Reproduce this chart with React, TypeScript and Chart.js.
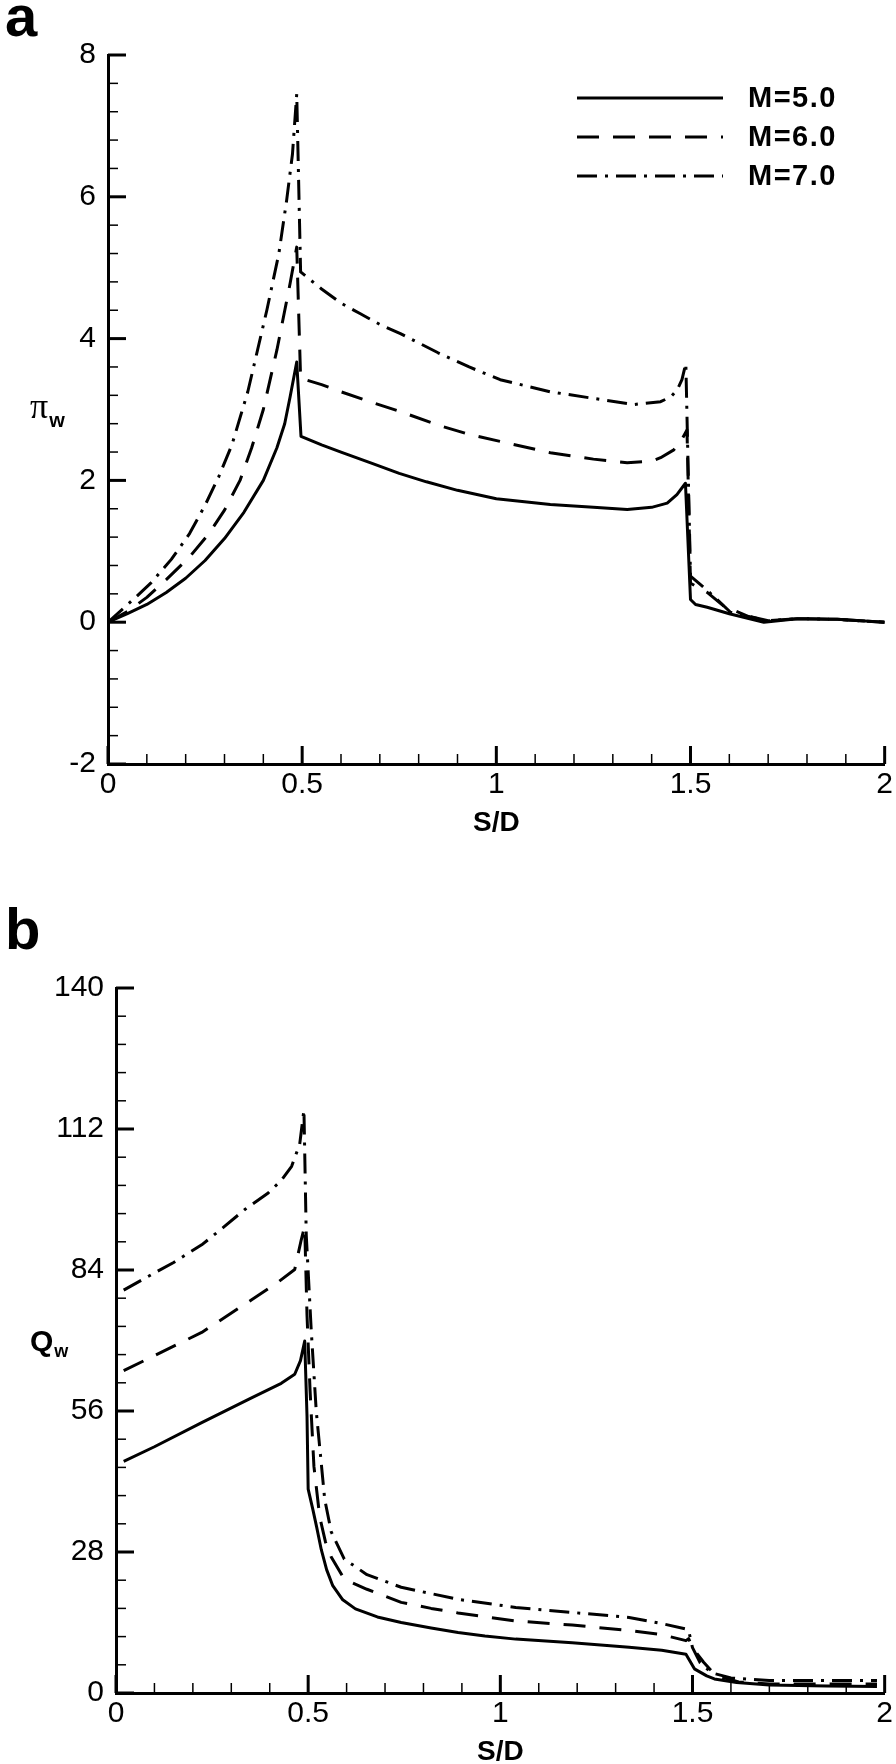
import React, { useEffect, useRef } from 'react';
import { Chart, registerables } from 'chart.js';

Chart.register(...registerables);

const FONT = '"Liberation Sans", Arial, Helvetica, sans-serif';

// ---------- shared ----------
const seriesLabels = ['M=5.0', 'M=6.0', 'M=7.0'];
const xTicks = [0, 0.5, 1, 1.5, 2];
const xTickLabels = ['0', '0.5', '1', '1.5', '2'];

// ---------- panel a : pi_w ----------
const aYTicks = [-2, 0, 2, 4, 6, 8];
const aYTickLabels = ['-2', '0', '2', '4', '6', '8'];

const aM5X = [0, 0.05, 0.1, 0.15, 0.2, 0.25, 0.3, 0.35, 0.4, 0.435, 0.455, 0.469, 0.486, 0.497, 0.55, 0.6, 0.68, 0.75, 0.82, 0.9, 1.0, 1.139, 1.25, 1.337, 1.4, 1.44, 1.465, 1.487, 1.5, 1.513, 1.543, 1.6, 1.689, 1.775, 1.878, 2.0];
const aM5Y = [0, 0.12, 0.25, 0.42, 0.62, 0.87, 1.18, 1.55, 2.0, 2.46, 2.8, 3.18, 3.67, 2.62, 2.5, 2.4, 2.24, 2.1, 1.98, 1.86, 1.74, 1.66, 1.62, 1.59, 1.62, 1.68, 1.8, 1.96, 0.32, 0.25, 0.21, 0.12, 0.0, 0.05, 0.04, 0.0];

const aM6X = [0, 0.05, 0.1, 0.15, 0.21, 0.26, 0.3, 0.34, 0.37, 0.4, 0.435, 0.469, 0.486, 0.496, 0.55, 0.6, 0.68, 0.753, 0.85, 0.93, 1.01, 1.139, 1.25, 1.337, 1.4, 1.423, 1.457, 1.475, 1.491, 1.5, 1.543, 1.585, 1.65, 1.7, 1.775, 1.878, 2.0];
const aM6Y = [0, 0.15, 0.35, 0.6, 0.92, 1.25, 1.58, 2.0, 2.46, 3.0, 3.84, 4.78, 5.29, 3.44, 3.35, 3.25, 3.1, 2.97, 2.78, 2.65, 2.55, 2.39, 2.3, 2.25, 2.27, 2.32, 2.43, 2.55, 2.71, 0.55, 0.42, 0.23, 0.08, 0.02, 0.05, 0.04, 0.0];

const aM7X = [0, 0.065, 0.11, 0.163, 0.21, 0.25, 0.285, 0.319, 0.36, 0.409, 0.44, 0.46, 0.475, 0.486, 0.496, 0.55, 0.6, 0.65, 0.7, 0.753, 0.85, 0.93, 1.01, 1.139, 1.27, 1.354, 1.423, 1.45, 1.466, 1.478, 1.488, 1.5, 1.543, 1.603, 1.7, 1.775, 1.878, 2.0];
const aM7Y = [0, 0.32, 0.55, 0.886, 1.25, 1.65, 2.05, 2.5, 3.25, 4.4, 5.2, 5.95, 6.6, 7.45, 4.94, 4.7, 4.5, 4.35, 4.2, 4.07, 3.8, 3.6, 3.42, 3.25, 3.14, 3.07, 3.11, 3.18, 3.28, 3.42, 3.65, 0.65, 0.45, 0.14, 0.02, 0.05, 0.04, 0.0];

// ---------- panel b : Q_w ----------
const bYTicks = [0, 28, 56, 84, 112, 140];
const bYTickLabels = ['0', '28', '56', '84', '112', '140'];

const bM5X = [0.02, 0.1, 0.223, 0.35, 0.43, 0.465, 0.48, 0.491, 0.497, 0.5, 0.512, 0.522, 0.534, 0.548, 0.564, 0.59, 0.623, 0.68, 0.742, 0.82, 0.89, 0.96, 1.04, 1.187, 1.335, 1.42, 1.483, 1.505, 1.537, 1.557, 1.615, 1.7, 1.85, 1.98];
const bM5Y = [46, 48.9, 53.7, 58.5, 61.5, 63.3, 66, 69.9, 55, 40.5, 36.5, 33, 28.5, 24.5, 21.3, 18.5, 16.7, 15.1, 14.0, 12.9, 12.0, 11.3, 10.7, 10.0, 9.1, 8.5, 7.7, 4.8, 3.4, 2.8, 2.1, 1.6, 1.4, 1.3];

const bM6X = [0.02, 0.1, 0.223, 0.353, 0.42, 0.465, 0.482, 0.491, 0.497, 0.505, 0.515, 0.53, 0.545, 0.56, 0.594, 0.653, 0.742, 0.82, 0.89, 1.04, 1.187, 1.335, 1.42, 1.483, 1.49, 1.5, 1.529, 1.56, 1.62, 1.7, 1.85, 1.98];
const bM6Y = [64, 67, 71.6, 78.1, 81.5, 84.1, 90, 92.7, 75, 60, 45, 35, 30, 27, 22.6, 20.6, 18, 16.8, 15.9, 14.3, 13.5, 12.4, 11.6, 10.4, 10.8, 9, 6.1, 3.5, 2.2, 1.8, 1.8, 1.8];

const bM7X = [0.02, 0.076, 0.15, 0.223, 0.28, 0.335, 0.396, 0.43, 0.457, 0.478, 0.489, 0.495, 0.508, 0.521, 0.543, 0.56, 0.594, 0.653, 0.742, 0.89, 1.04, 1.187, 1.335, 1.425, 1.483, 1.49, 1.5, 1.52, 1.55, 1.6, 1.7, 1.85, 1.98];
const bM7Y = [80, 82.4, 85.5, 89, 92.5, 96, 99.3, 101.8, 104.6, 109, 115.8, 91, 72, 56, 38.5, 32, 26.6, 23.5, 21, 18.6, 17, 16, 15, 13.7, 12.7, 12.4, 9, 6, 4, 3, 2.5, 2.5, 2.5];

const DASHES: number[][] = [[], [22, 14], [20, 8, 3, 8]];

// ---------- decoration plugin (inward ticks, legend, labels) ----------
const decor = {
  id: 'decor',
  afterDraw(chart: any, _args: any, o: any) {
    const ctx: CanvasRenderingContext2D = chart.ctx;
    const xs = chart.scales.x;
    const ys = chart.scales.y;
    const { left, bottom, top } = chart.chartArea;
    ctx.save();
    ctx.strokeStyle = '#000';
    ctx.fillStyle = '#000';
    ctx.lineCap = 'butt';

    // x ticks (pointing into the plot)
    const nx = Math.round((o.xMax - o.xMin) / o.xMinor);
    for (let i = 0; i <= nx; i++) {
      const v = o.xMin + i * o.xMinor;
      const major = i % o.xPer === 0;
      const p = xs.getPixelForValue(v);
      ctx.lineWidth = major ? 3 : 1.5;
      ctx.beginPath();
      ctx.moveTo(p, bottom);
      ctx.lineTo(p, bottom - (major ? 18 : 10));
      ctx.stroke();
    }
    // y ticks
    const ny = Math.round((o.yMax - o.yMin) / o.yMinor);
    for (let i = 0; i <= ny; i++) {
      const v = o.yMin + i * o.yMinor;
      const major = i % o.yPer === 0;
      const p = ys.getPixelForValue(v);
      ctx.lineWidth = major ? 3 : 1.5;
      ctx.beginPath();
      ctx.moveTo(left, p);
      ctx.lineTo(left + (major ? 18 : 10), p);
      ctx.stroke();
    }

    // legend
    if (o.legend) {
      const L = o.legend;
      chart.data.datasets.forEach((ds: any, i: number) => {
        const y = L.y0 + i * L.dy;
        ctx.setLineDash(ds.borderDash || []);
        ctx.lineWidth = 3;
        ctx.beginPath();
        ctx.moveTo(L.x0, y);
        ctx.lineTo(L.x1, y);
        ctx.stroke();
        ctx.setLineDash([]);
        ctx.font = `bold 29px ${FONT}`;
        ctx.textAlign = 'left';
        ctx.textBaseline = 'middle';
        (ctx as any).letterSpacing = '1.5px';
        ctx.fillText(ds.label, L.tx, y + 1);
        (ctx as any).letterSpacing = '0px';
      });
    }

    // panel letter
    ctx.textAlign = 'left';
    ctx.textBaseline = 'alphabetic';
    ctx.font = `bold 58px ${FONT}`;
    ctx.fillText(o.letter, o.letterX, o.letterY);

    // y axis title with subscript, centred on the axis
    const T = o.ytitle;
    const cy = (top + bottom) / 2;
    ctx.font = T.mainFont;
    ctx.fillText(T.main, T.x, cy + T.dy);
    const w = ctx.measureText(T.main).width;
    ctx.font = T.subFont;
    ctx.fillText(T.sub, T.x + w + T.subGap, cy + T.dy + T.subDy);

    ctx.restore();
  },
};

type Series = { x: number[]; y: number[] };

function buildConfig(p: any) {
  const series: Series[] = p.series;
  return {
    type: 'line',
    data: {
      datasets: series.map((s, i) => ({
        label: seriesLabels[i],
        data: s.x.map((x, j) => ({ x, y: s.y[j] })),
        borderColor: '#000',
        backgroundColor: '#000',
        borderWidth: 3,
        borderDash: DASHES[i],
        borderJoinStyle: 'round',
        pointRadius: 0,
        fill: false,
        tension: 0,
      })),
    },
    options: {
      responsive: false,
      animation: false,
      events: [],
      layout: { padding: p.padding },
      plugins: {
        legend: { display: false },
        tooltip: { enabled: false },
        decor: p.decor,
      },
      scales: {
        x: {
          type: 'linear',
          min: 0,
          max: 2,
          afterBuildTicks: (s: any) => {
            s.ticks = xTicks.map((v) => ({ value: v }));
          },
          afterFit: (s: any) => {
            s.height = p.xHeight;
          },
          ticks: {
            autoSkip: false,
            maxRotation: 0,
            color: '#000',
            padding: 3,
            font: { size: 30, family: FONT, lineHeight: 1.2 },
            callback: (_v: any, i: number) => xTickLabels[i],
          },
          grid: { display: false, drawTicks: false },
          border: { display: true, color: '#000', width: 3 },
          title: {
            display: true,
            text: 'S/D',
            color: '#000',
            padding: 0,
            font: { size: 28, weight: 'bold', family: FONT, lineHeight: 0.86 },
          },
        },
        y: {
          type: 'linear',
          min: p.yTicks[0],
          max: p.yTicks[p.yTicks.length - 1],
          afterBuildTicks: (s: any) => {
            s.ticks = p.yTicks.map((v: number) => ({ value: v }));
          },
          afterFit: (s: any) => {
            s.width = p.yWidth;
          },
          ticks: {
            autoSkip: false,
            color: '#000',
            padding: 12,
            font: { size: 30, family: FONT, lineHeight: 1.2 },
            callback: (_v: any, i: number) => p.yTickLabels[i],
          },
          grid: { display: false, drawTicks: false },
          border: { display: true, color: '#000', width: 3 },
        },
      },
    },
    plugins: [decor],
  };
}

const panelA = {
  series: [
    { x: aM5X, y: aM5Y },
    { x: aM6X, y: aM6Y },
    { x: aM7X, y: aM7Y },
  ],
  yTicks: aYTicks,
  yTickLabels: aYTickLabels,
  yWidth: 108,
  xHeight: 71,
  padding: { left: 0, top: 55, right: 11, bottom: 45 },
  decor: {
    xMin: 0, xMax: 2, xMinor: 0.1, xPer: 5,
    yMin: -2, yMax: 8, yMinor: 0.4, yPer: 5,
    legend: { x0: 577, x1: 723, tx: 748, y0: 98, dy: 39 },
    letter: 'a', letterX: 5, letterY: 36,
    ytitle: {
      main: 'π', sub: 'w',
      mainFont: `36px "Liberation Serif", "DejaVu Serif", serif`,
      subFont: `bold 20px ${FONT}`,
      x: 30, dy: 8, subGap: 1, subDy: 9,
    },
  },
};

const panelB = {
  series: [
    { x: bM5X, y: bM5Y },
    { x: bM6X, y: bM6Y },
    { x: bM7X, y: bM7Y },
  ],
  yTicks: bYTicks,
  yTickLabels: bYTickLabels,
  yWidth: 116,
  xHeight: 71,
  padding: { left: 0, top: 108, right: 10, bottom: 0 },
  decor: {
    xMin: 0, xMax: 2, xMinor: 0.1, xPer: 5,
    yMin: 0, yMax: 140, yMinor: 5.6, yPer: 5,
    legend: null,
    letter: 'b', letterX: 5, letterY: 69,
    ytitle: {
      main: 'Q', sub: 'w',
      mainFont: `bold 30px ${FONT}`,
      subFont: `bold 18px ${FONT}`,
      x: 30, dy: 10, subGap: 1, subDy: 6,
    },
  },
};

function Panel({ cfg, top, height }: { cfg: any; top: number; height: number }) {
  const ref = useRef<HTMLCanvasElement | null>(null);
  useEffect(() => {
    if (!ref.current) return;
    const chart = new Chart(ref.current, buildConfig(cfg) as any);
    return () => chart.destroy();
  }, [cfg]);
  return (
    <canvas
      ref={ref}
      width={896}
      height={height}
      style={{ position: 'absolute', left: 0, top, width: 896, height, display: 'block' }}
    />
  );
}

export default function App() {
  return (
    <div style={{ position: 'absolute', left: 0, top: 0, width: 896, height: 1764, background: '#fff', overflow: 'hidden' }}>
      <Panel cfg={panelA} top={0} height={880} />
      <Panel cfg={panelB} top={880} height={884} />
    </div>
  );
}
